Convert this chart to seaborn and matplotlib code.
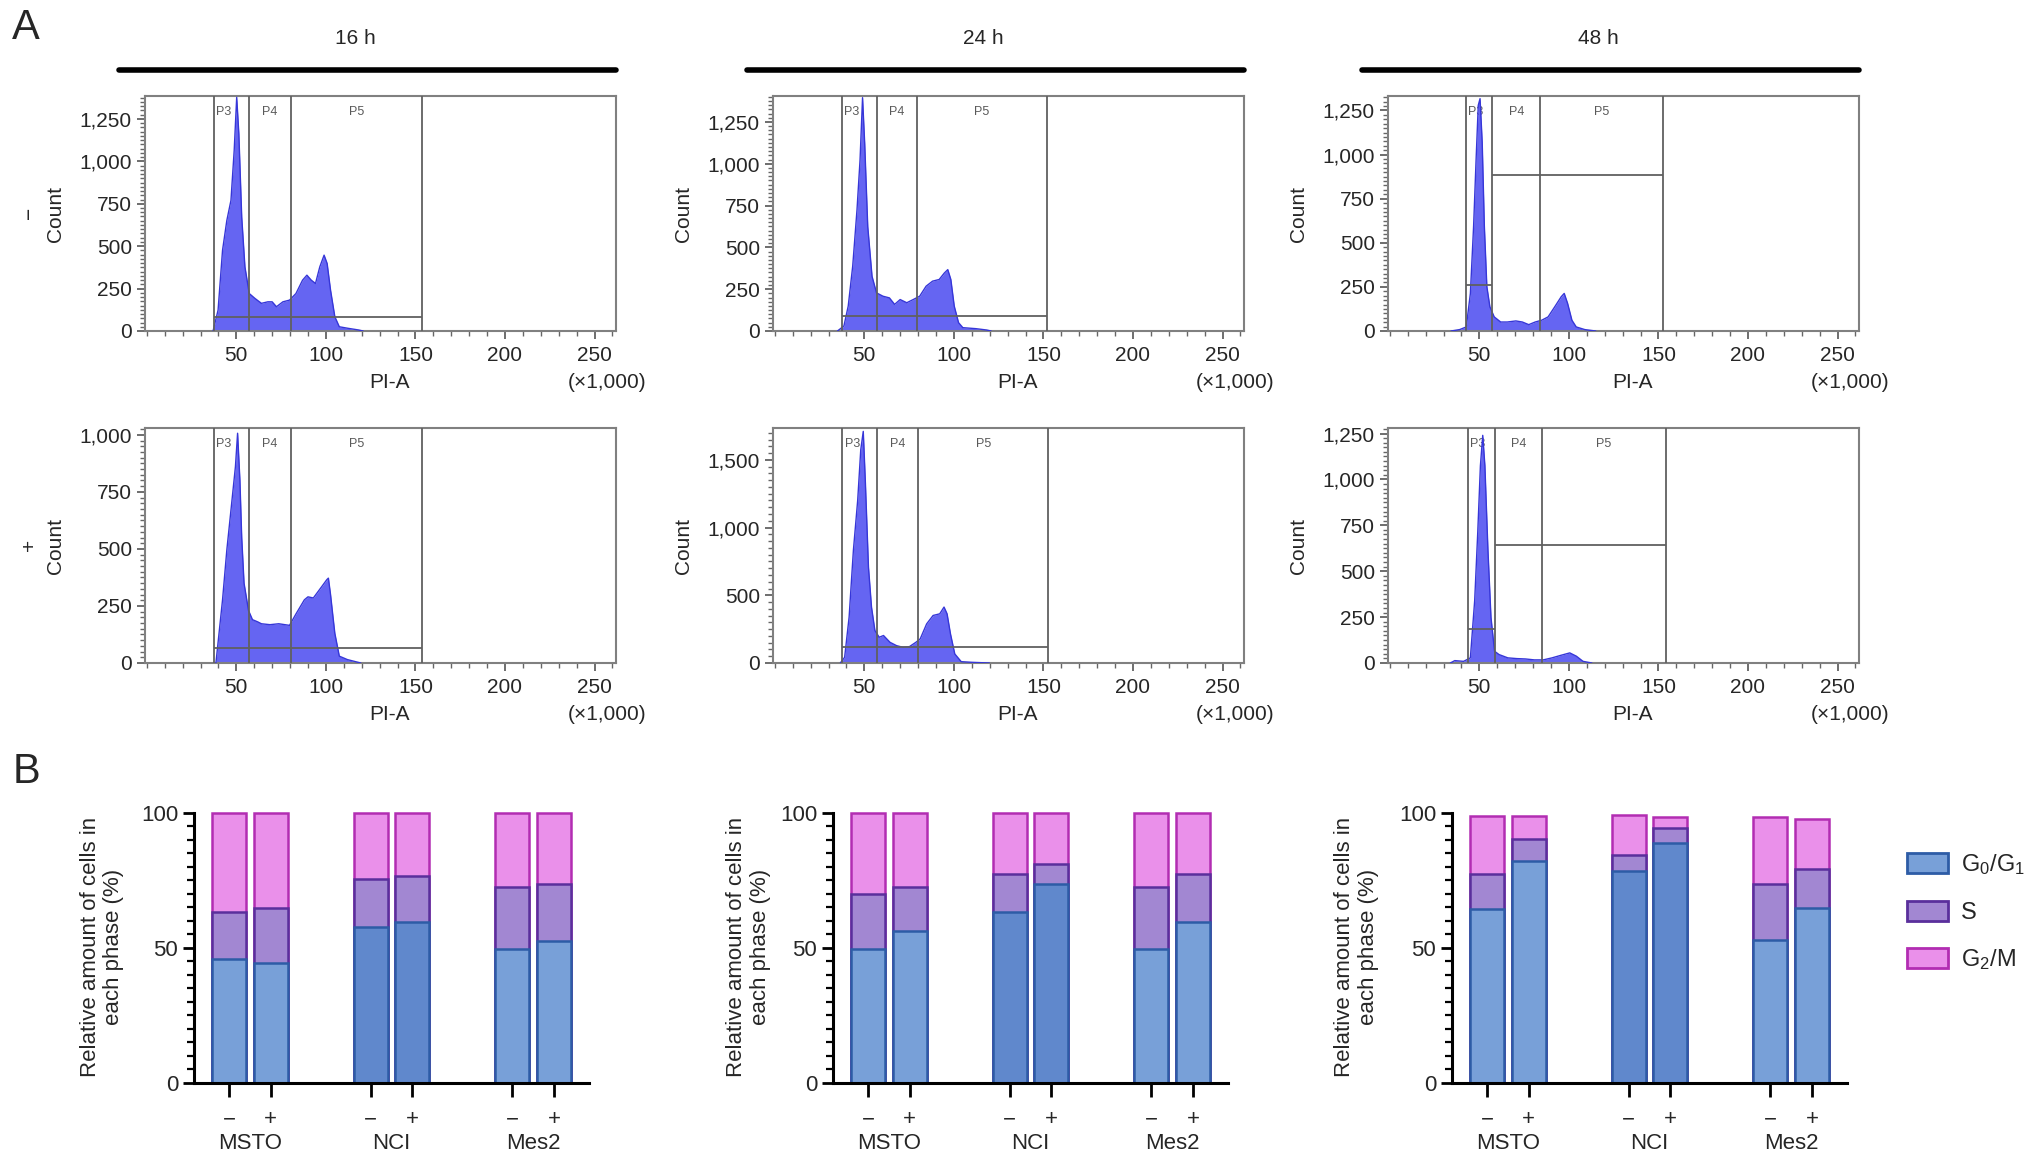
import numpy as np
import pandas as pd
import matplotlib
matplotlib.use('Agg')
import matplotlib.pyplot as plt
import matplotlib.transforms as mtransforms
from matplotlib.ticker import MultipleLocator, FixedLocator, FuncFormatter
from matplotlib.patches import Patch
from matplotlib.lines import Line2D
import seaborn as sns

sns.set_theme(style='white')
plt.rcParams['font.family'] = ['Liberation Sans', 'DejaVu Sans']
plt.rcParams['mathtext.fontset'] = 'custom'
plt.rcParams['mathtext.rm'] = 'Liberation Sans'

## ---- panel A: PI histograms (x in thousands, counts) ----
times = ['16 h', '24 h', '48 h']
treatments = ['\u2212', '+']
gate_names = ['P3', 'P4', 'P5']

pi_16h_neg = [37, 39.8, 42.3, 44.7, 47, 48.8, 50.2, 51.4, 53, 54.8, 57.2, 60.4, 64, 67.6, 70, 72.4,
              76, 79.7, 83.3, 87, 89.4, 91.8, 94.2, 96.6, 99, 100.7, 102.6, 105, 107.5, 112.3, 118.3, 120.8]
cnt_16h_neg = [0, 123, 476, 652, 770, 1064, 1377, 1162, 672, 378, 221, 192, 163, 172, 172, 143,
               172, 182, 221, 300, 329, 300, 280, 378, 447, 398, 241, 84, 25, 16, 6, 0]
pi_16h_pos = [38.6, 42.3, 44.7, 47, 49.5, 50.7, 52, 53, 54.3, 56.8, 59, 62, 64, 68.8, 73.7, 79.7,
              83.3, 88, 90, 93, 97.8, 100.5, 101.4, 102.6, 104, 105, 107.5, 112, 119.5]
cnt_16h_pos = [0, 277, 496, 670, 861, 1007, 800, 550, 350, 230, 190, 180, 172, 168, 172, 165,
               215, 277, 290, 285, 336, 365, 372, 300, 200, 130, 30, 15, 0]
pi_24h_neg = [35, 38.6, 41, 43.5, 45.9, 47.6, 49, 50.2, 51.9, 54.3, 56.8, 60.4, 64, 66.9, 70, 73.7,
              77.3, 80.9, 84.5, 88.1, 91.8, 94.7, 96.6, 98.3, 100.2, 102.6, 105, 112.3, 118.3, 120.8]
cnt_24h_neg = [0, 30, 149, 387, 724, 1022, 1395, 1121, 625, 327, 228, 208, 198, 159, 188, 169,
               188, 208, 268, 298, 308, 347, 367, 308, 149, 50, 20, 14, 6, 0]
pi_24h_pos = [36.6, 39, 41.5, 43.9, 46.3, 48, 49.4, 50.6, 52.3, 54, 55.9, 58.3, 60.7, 64.3, 68, 71.6,
              75.2, 78.8, 81.2, 84.8, 88.4, 92.1, 94.5, 96.2, 98.1, 100.5, 104.1, 110.1, 119.8]
cnt_24h_pos = [0, 42, 339, 833, 1203, 1574, 1710, 1327, 709, 413, 240, 190, 203, 153, 128, 116,
               121, 153, 178, 289, 351, 363, 413, 363, 215, 67, 10, 5, 0]
pi_48h_neg = [34.2, 39, 42.7, 45, 46.8, 48.2, 49.4, 50.4, 51.6, 52.8, 54.2, 55.9, 58.3, 61.9, 65.6,
              70.4, 74, 77.6, 81.2, 84.8, 88.4, 92.1, 95.7, 97.4, 99.3, 101.7, 104.1, 108.9, 115]
cnt_48h_neg = [0, 8, 23, 213, 594, 974, 1279, 1317, 1069, 594, 251, 137, 80, 51, 51,
               57, 51, 36, 51, 61, 80, 137, 194, 213, 156, 61, 23, 8, 0]
pi_48h_pos = [33.8, 36.3, 41.2, 45, 47.4, 49.1, 50.6, 51.9, 53.1, 54.8, 56.5, 58.5, 61, 65.9, 70.9,
              75.8, 80.7, 85.7, 90.6, 95.6, 100.5, 104.2, 107.9, 112.8]
cnt_48h_pos = [0, 13, 9, 28, 340, 708, 1075, 1240, 1075, 616, 248, 64, 46, 28, 24,
               22, 17, 17, 28, 42, 55, 37, 9, 0]

# gate edges (P3 start, P3/P4, P4/P5, P5 end) and marker heights
gates_16h_neg = [37.4, 57.2, 80.4, 153.4]
gates_16h_pos = [37.4, 57.2, 80.4, 153.4]
gates_24h_neg = [37.4, 56.8, 79.2, 152.0]
gates_24h_pos = [37.8, 57.1, 80.0, 152.8]
gates_48h_neg = [42.7, 57.1, 84.1, 152.8]
gates_48h_pos = [43.7, 58.5, 85.0, 154.0]
gate_h_16h = [84, 66]
gate_h_24h = [89, 116]
gate_h_48h_p3 = [261, 184]
gate_h_48h_p45 = [883, 643]

ylim_top = [[1385, 1030], [1405, 1735], [1332, 1280]]
ymajor = [[250, 250], [250, 500], [250, 250]]

## ---- panel B: cell cycle phase (%) ----
cell_lines = ['MSTO', 'NCI', 'Mes2']
g0_16h = [45.7, 44.4, 57.8, 59.6, 49.4, 52.5]
s_16h = [17.6, 20.2, 17.5, 16.9, 23.2, 21.0]
g2m_16h = [36.7, 35.4, 24.7, 23.5, 27.4, 26.5]
g0_24h = [49.4, 56.2, 63.1, 73.5, 49.4, 59.4]
s_24h = [20.7, 16.4, 14.4, 7.7, 23.2, 18.1]
g2m_24h = [29.9, 27.4, 22.5, 18.8, 27.4, 22.5]
g0_48h = [64.2, 82.1, 78.4, 88.9, 52.8, 64.6]
s_48h = [13.3, 8.3, 5.9, 5.3, 20.8, 14.4]
g2m_48h = [21.3, 8.4, 14.7, 4.1, 24.9, 18.5]

hist_fill = '#6565f2'
hist_edge = '#3636d8'
gate_col = '#606060'
g0_fill, g0_fill_dark, g0_edge = '#78a0d8', '#6088cc', '#2d5ca6'
s_fill, s_edge = '#a287d2', '#5a2f9c'
g2m_fill, g2m_edge = '#ea90ea', '#b22db2'

W, H = 2032, 1164


def px_rect(left, top, right, bottom):
    return [left / W, 1 - bottom / H, (right - left) / W, (bottom - top) / H]


fig = plt.figure(figsize=(W / 100, H / 100), dpi=100)

hist_x = [[pi_16h_neg, pi_16h_pos], [pi_24h_neg, pi_24h_pos], [pi_48h_neg, pi_48h_pos]]
hist_y = [[cnt_16h_neg, cnt_16h_pos], [cnt_24h_neg, cnt_24h_pos], [cnt_48h_neg, cnt_48h_pos]]
gates = [[gates_16h_neg, gates_16h_pos], [gates_24h_neg, gates_24h_pos], [gates_48h_neg, gates_48h_pos]]

col_left = [145, 773, 1388]
row_top = [96, 428]
comma = FuncFormatter(lambda v, p: f'{int(v):,}')

for c in range(3):
    l = col_left[c]
    # column header with black bar
    fig.add_artist(Line2D([(l - 26) / W, (l + 471) / W], [1 - 70 / H] * 2, color='black', lw=4))
    fig.text((l + 210) / W, 1 - 38 / H, times[c], ha='center', va='center', fontsize=15)
    for r in range(2):
        t = row_top[r]
        ax = fig.add_axes(px_rect(l, t, l + 471, t + 235))
        xs, cs, g = hist_x[c][r], hist_y[c][r], gates[c][r]
        ax.fill_between(xs, cs, color=hist_fill, lw=0, zorder=2)
        sns.lineplot(x=xs, y=cs, ax=ax, color=hist_edge, lw=1, estimator=None, sort=False, zorder=3)
        for gx in g:
            ax.axvline(gx, color=gate_col, lw=1.3, zorder=4)
        if c < 2:
            h = (gate_h_16h if c == 0 else gate_h_24h)[r]
            ax.hlines(h, g[0], g[3], color=gate_col, lw=1.3, zorder=4)
        else:
            ax.hlines(gate_h_48h_p3[r], g[0], g[1], color=gate_col, lw=1.3, zorder=4)
            ax.hlines(gate_h_48h_p45[r], g[1], g[3], color=gate_col, lw=1.3, zorder=4)
        tr = mtransforms.blended_transform_factory(ax.transData, ax.transAxes)
        ax.text(g[0] + 1.2, 0.93, gate_names[0], transform=tr, ha='left', va='center',
                fontsize=9, color='#5a5a5a', zorder=1)
        ax.text((g[1] + g[2]) / 2, 0.93, gate_names[1], transform=tr, ha='center', va='center',
                fontsize=9, color='#5a5a5a', zorder=1)
        ax.text((g[2] + g[3]) / 2, 0.93, gate_names[2], transform=tr, ha='center', va='center',
                fontsize=9, color='#5a5a5a', zorder=1)

        ax.set_xlim(-1, 262)
        ax.set_ylim(0, ylim_top[c][r])
        ax.xaxis.set_major_locator(FixedLocator([50, 100, 150, 200, 250]))
        ax.xaxis.set_minor_locator(MultipleLocator(10))
        ax.yaxis.set_major_locator(MultipleLocator(ymajor[c][r]))
        ax.yaxis.set_minor_locator(MultipleLocator(ymajor[c][r] / 10))
        ax.yaxis.set_major_formatter(comma)
        ax.tick_params(which='major', direction='out', length=6, width=1.2, color='#555555',
                       labelsize=15, left=True, bottom=True)
        ax.tick_params(which='minor', direction='out', length=3.5, width=1, color='#666666',
                       left=True, bottom=True)
        ax.tick_params(axis='x', which='major', pad=5)
        for sp in ax.spines.values():
            sp.set_color('#808080')
            sp.set_linewidth(1.5)
        ax.set_xlabel('')
        ax.set_ylabel('')
        ax.grid(False)
        ax.text(0.52, -0.22, 'PI-A', transform=ax.transAxes, ha='center', va='center', fontsize=15)
        ax.text(1.065, -0.22, '(\u00d71,000)', transform=ax.transAxes, ha='right', va='center', fontsize=15)
        ax.text(-0.19, 0.5, 'Count', transform=ax.transAxes, rotation=90, ha='center', va='center', fontsize=15)
        if c == 0:
            fig.text(29 / W, 1 - (t + 117) / H, treatments[r], rotation=90, ha='center', va='center', fontsize=15)

fig.text(26 / W, 1 - 28 / H, 'A', ha='center', va='center', fontsize=30)
fig.text(27 / W, 1 - 772 / H, 'B', ha='center', va='center', fontsize=30)

## ---- panel B ----
positions = np.concatenate([[i * 3.4, i * 3.4 + 1] for i in range(3)])
b_lefts = [194, 833, 1452]
b_data = [(g0_16h, s_16h, g2m_16h), (g0_24h, s_24h, g2m_24h), (g0_48h, s_48h, g2m_48h)]
ylabel_x = [-0.233, -0.214, -0.242]

for k in range(3):
    g0, s, g2m = b_data[k]
    ax = fig.add_axes(px_rect(b_lefts[k], 810, b_lefts[k] + 395, 1083))
    df = pd.DataFrame({'pos': positions, 'line': np.repeat(cell_lines, 2),
                       'g0': g0, 's': s, 'g2m': g2m})
    df['top_s'] = df['g0'] + df['s']
    df['total'] = df['top_s'] + df['g2m']
    sns.barplot(data=df, x='pos', y='total', native_scale=True, width=0.82, color=g2m_fill,
                saturation=1, edgecolor=g2m_edge, linewidth=1.8, errorbar=None, ax=ax)
    sns.barplot(data=df, x='pos', y='top_s', native_scale=True, width=0.82, color=s_fill,
                saturation=1, edgecolor=s_edge, linewidth=1.8, errorbar=None, ax=ax)
    sns.barplot(data=df, x='pos', y='g0', hue='line', dodge=False, legend=False, native_scale=True,
                width=0.82, palette={'MSTO': g0_fill, 'NCI': g0_fill_dark, 'Mes2': g0_fill},
                saturation=1, edgecolor=g0_edge, linewidth=1.8, errorbar=None, ax=ax)
    ax.set_xlim(-0.84, 8.64)
    ax.set_ylim(0, 101)
    sns.despine(ax=ax)
    ax.spines['left'].set_bounds(0, 100)
    for sp in ['left', 'bottom']:
        ax.spines[sp].set_color('black')
        ax.spines[sp].set_linewidth(2.2)
    ax.set_xticks(positions, labels=treatments * 3)
    ax.yaxis.set_major_locator(FixedLocator([0, 50, 100]))
    ax.yaxis.set_minor_locator(MultipleLocator(5))
    ax.tick_params(axis='y', which='major', direction='out', length=8, width=2, labelsize=16, left=True, color='black')
    ax.tick_params(axis='y', which='minor', direction='out', length=5, width=1.6, left=True, color='black')
    ax.tick_params(axis='x', which='major', direction='out', length=10, width=2, labelsize=16,
                   bottom=True, pad=9, color='black')
    ax.set_xlabel('')
    ax.set_ylabel('')
    ax.grid(False)
    tr = mtransforms.blended_transform_factory(ax.transData, ax.transAxes)
    for i, name in enumerate(cell_lines):
        ax.text(i * 3.4 + 0.5, -0.222, name, transform=tr, ha='center', va='center', fontsize=16)
    ax.text(ylabel_x[k], 0.5, 'Relative amount of cells in\neach phase (%)', transform=ax.transAxes,
            rotation=90, ha='center', va='center', multialignment='center', fontsize=16, linespacing=1.15)

handles = [Patch(facecolor=g0_fill, edgecolor=g0_edge, lw=2),
           Patch(facecolor=s_fill, edgecolor=s_edge, lw=2),
           Patch(facecolor=g2m_fill, edgecolor=g2m_edge, lw=2)]
labels = [r'$\mathregular{G_0/G_1}$', 'S', r'$\mathregular{G_2/M}$']
fig.legend(handles, labels, loc='upper left', bbox_to_anchor=(1907 / W, 1 - 852 / H),
           frameon=False, handlelength=1.75, handleheight=0.95, handletextpad=0.55,
           labelspacing=1.0, fontsize=17, borderpad=0, borderaxespad=0)

fig.savefig('out.png', dpi=100)
